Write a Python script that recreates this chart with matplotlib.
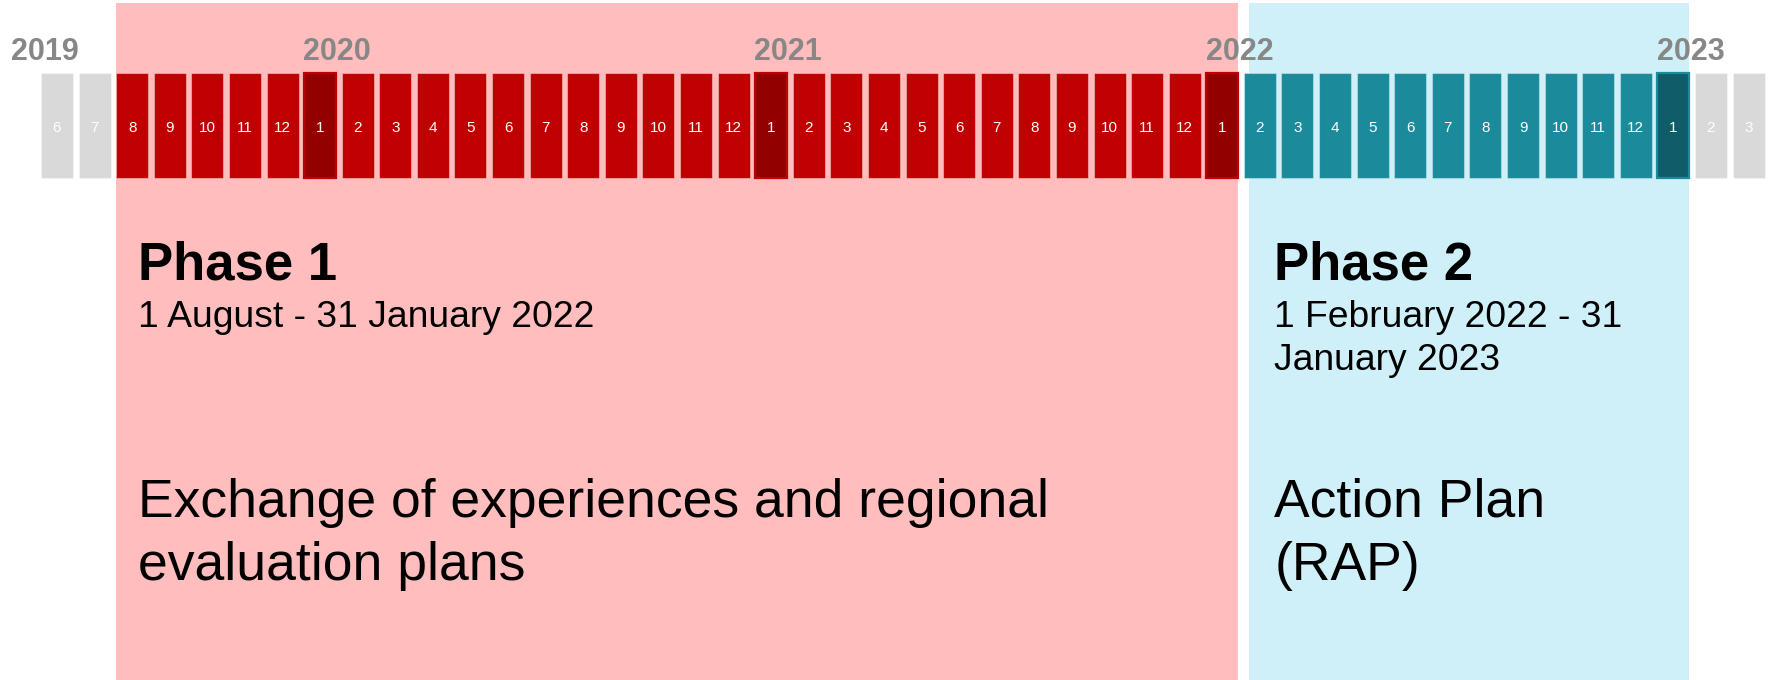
import matplotlib.pyplot as plt

plt.rcParams['font.family'] = ['Liberation Sans', 'DejaVu Sans']

# months on the strip, June 2019 - March 2023
month_nums = [6, 7, 8, 9, 10, 11, 12,
              1, 2, 3, 4, 5, 6, 7, 8, 9, 10, 11, 12,
              1, 2, 3, 4, 5, 6, 7, 8, 9, 10, 11, 12,
              1, 2, 3, 4, 5, 6, 7, 8, 9, 10, 11, 12,
              1, 2, 3]
year_labels = ['2019', '2020', '2021', '2022', '2023']

phase_titles = ['Phase 1', 'Phase 2']
phase_dates = ['1 August - 31 January 2022', '1 February 2022 - 31\nJanuary 2023']
phase_goals = ['Exchange of experiences and regional\nevaluation plans', 'Action Plan\n(RAP)']
phase_first = [2, 32]   # index of first month in month_nums
phase_last = [31, 43]

# styling
phase_fill = ['#c00000', '#1b8a9b']
phase_jan = ['#920000', '#105c68']
phase_bg = ['#ffbdbd', '#cff0f8']
bg_inset = [0.0, 0.14]
text_off = [0.59, 0.81]
grey = '#d9d9d9'
box_w = 0.851
box_top, box_bot = 72.7, 177.7

fig = plt.figure(figsize=(17.68, 6.8), dpi=100)
ax = fig.add_axes([0, 0, 1, 1])
ax.set_xlim(-1.0907, 45.943)
ax.set_ylim(680, 0)
ax.axis('off')

# phase backgrounds
for k in range(2):
    x0 = phase_first[k] + bg_inset[k]
    x1 = phase_last[k] + box_w
    ax.bar(x0, 680 - 3, bottom=3, width=x1 - x0, align='edge',
           color=phase_bg[k], zorder=0)

# month boxes
xs = list(range(len(month_nums)))
fills, edges, lws = [], [], []
for i, m in enumerate(month_nums):
    k = None
    for p in range(2):
        if phase_first[p] <= i <= phase_last[p]:
            k = p
    if k is None:
        fills.append(grey)
        edges.append((1, 1, 1, 0.4))
        lws.append(0.8)
    elif m == 1:
        fills.append(phase_jan[k])
        edges.append(phase_fill[k])
        lws.append(1.6)
    else:
        fills.append(phase_fill[k])
        edges.append((1, 1, 1, 0.35))
        lws.append(0.8)

ax.bar(xs, box_bot - box_top, bottom=box_top, width=box_w, align='edge',
       color=fills, edgecolor=edges, linewidth=lws, zorder=2)

for i, m in enumerate(month_nums):
    ax.text(i + box_w / 2, 132.2, str(m), ha='center', va='baseline',
            fontsize=11, color='white', zorder=3)

# year labels, left-aligned on each January box
jan_idx = [i for i, m in enumerate(month_nums) if m == 1]
year_x = [-0.80] + [j - 0.02 for j in jan_idx]
for x, y in zip(year_x, year_labels):
    ax.text(x, 60, y, ha='left', va='baseline', fontsize=22,
            fontweight='bold', color='#878787', zorder=3)

# phase texts
for k in range(2):
    tx = phase_first[k] + text_off[k]
    ax.text(tx, 279.3, phase_titles[k], ha='left', va='baseline',
            fontsize=38, fontweight='bold', color='black', zorder=3)
    for j, line in enumerate(phase_dates[k].split('\n')):
        ax.text(tx, 327.3 + j * 42.5, line, ha='left', va='baseline',
                fontsize=26.8, color='black', zorder=3)
    for j, line in enumerate(phase_goals[k].split('\n')):
        ax.text(tx, 516.5 + j * 63.5, line, ha='left', va='baseline',
                fontsize=38.5, color='black', zorder=3)

fig.savefig('out.png', dpi=100)
